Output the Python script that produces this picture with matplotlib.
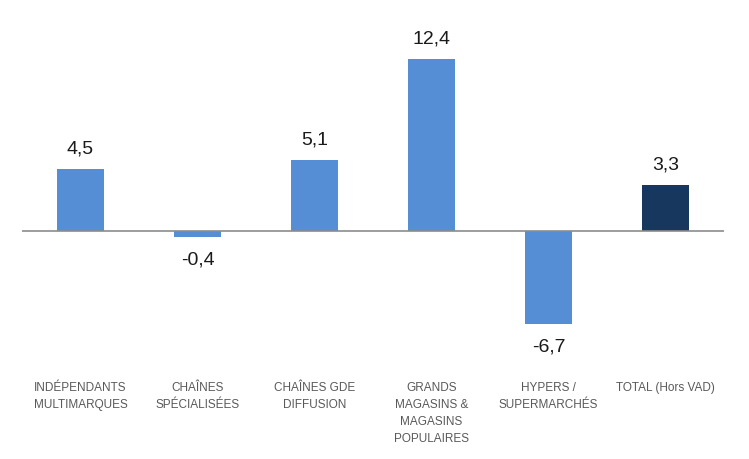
import matplotlib.pyplot as plt

# données
categories = ['INDÉPENDANTS\nMULTIMARQUES', 'CHAÎNES\nSPÉCIALISÉES', 'CHAÎNES GDE\nDIFFUSION',
              'GRANDS\nMAGASINS &\nMAGASINS\nPOPULAIRES', 'HYPERS /\nSUPERMARCHÉS', 'TOTAL (Hors VAD)']
values = [4.5, -0.4, 5.1, 12.4, -6.7, 3.3]
labels = ['4,5', '-0,4', '5,1', '12,4', '-6,7', '3,3']
colors = ['#558ED5'] * 5 + ['#17375E']

plt.rcParams['font.family'] = ['Liberation Sans', 'DejaVu Sans']

fig = plt.figure(figsize=(7.49, 4.60), dpi=100)
ax = fig.add_axes([22 / 749, 1 - 357 / 460, 702 / 749, 333 / 460])

x = range(len(values))
bars = ax.bar(x, values, width=0.4, color=colors, zorder=2)
ax.axhline(0, color='#8C8C8C', linewidth=1.2, zorder=3)

for b, v, lab in zip(bars, values, labels):
    xc = b.get_x() + b.get_width() / 2
    if v >= 0:
        ax.annotate(lab, (xc, v), xytext=(0, 9), textcoords='offset points',
                    ha='center', va='bottom', fontsize=14, color='#1A1A1A')
    else:
        ax.annotate(lab, (xc, v), xytext=(0, -10), textcoords='offset points',
                    ha='center', va='top', fontsize=14, color='#1A1A1A')

ax.set_xlim(-0.5, 5.5)
ax.set_ylim(-9, 15)
ax.set_xticks(list(x))
ax.set_xticklabels(categories, fontsize=8.5, color='#595959', linespacing=1.55)
ax.tick_params(axis='x', length=0, pad=18)
ax.set_yticks([])
for s in ax.spines.values():
    s.set_visible(False)

fig.savefig('out.png', dpi=100)
